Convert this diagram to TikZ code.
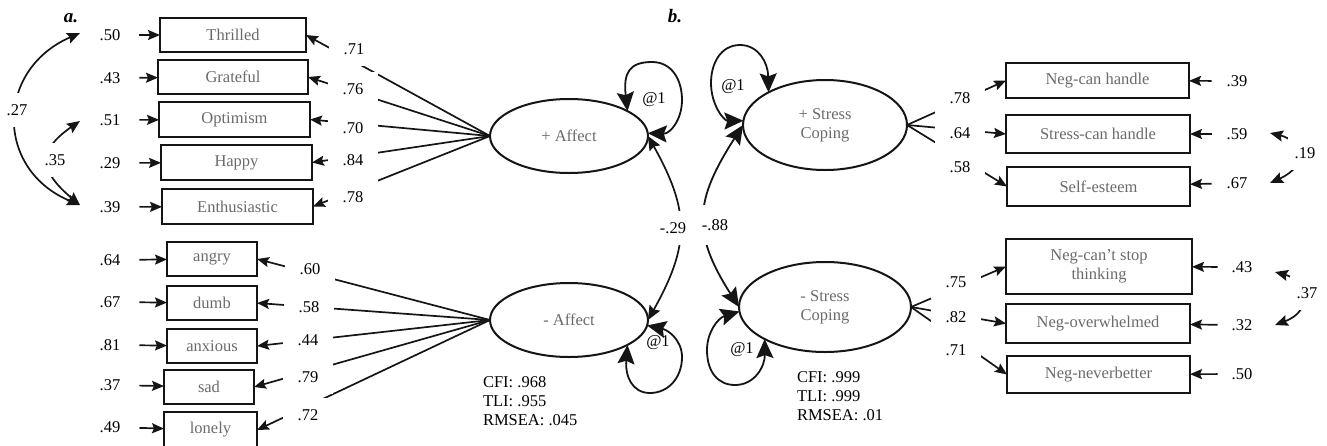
\documentclass[tikz,border=0pt]{standalone}
\usepackage{fontspec}
\setmainfont{Liberation Serif}
\usetikzlibrary{arrows.meta,shapes.geometric}
\definecolor{ink}{HTML}{151515}
\definecolor{txtgray}{HTML}{6A6A6A}
\begin{document}
\begin{tikzpicture}[x=1pt,y=-1pt,
  font=\fontsize{16.5}{19}\selectfont,
  every node/.style={inner sep=0pt, outer sep=0pt},
  obs/.style={draw=ink, line width=2pt, text=txtgray, align=center},
  lat/.style={ellipse, draw=ink, line width=2pt, text=txtgray, align=center},
  lab/.style={fill=white, minimum width=50pt, minimum height=34pt, text=black},
  load/.style={draw=ink, line width=1.7pt, -{Stealth[length=12pt,width=10pt,inset=2pt]}},
  res/.style={draw=ink, line width=1.7pt, -{Stealth[length=12pt,width=10pt,inset=2pt]}},
  cov/.style={draw=ink, line width=1.7pt, {Stealth[length=13pt,width=11pt,inset=2pt]}-{Stealth[length=13pt,width=11pt,inset=2pt]}},
  midcov/.style={draw=ink, line width=1.7pt, {Stealth[length=14pt,width=12pt,inset=2pt]}-{Stealth[length=14pt,width=12pt,inset=2pt]}},
  bigcov/.style={draw=ink, line width=1.8pt, {Stealth[length=19pt,width=17pt,inset=3pt]}-{Stealth[length=19pt,width=17pt,inset=3pt]}},
  panel/.style={font=\fontsize{19}{22}\selectfont\bfseries\itshape}
]
\useasboundingbox (0,0) rectangle (1327,445);

% panel labels
\node[panel] (pa-lbl) at (71,18) {a.};
\node[panel] (pb-lbl) at (675,16) {b.};

% latent variables
\node[lat, minimum width=158pt, minimum height=74pt] (pa) at (569,136) {+ Affect};
\node[lat, minimum width=158pt, minimum height=74pt] (na) at (569,320) {- Affect};
\node[lat, minimum width=164pt, minimum height=90pt] (ps) at (825,125) {+ Stress\\Coping};
\node[lat, minimum width=172pt, minimum height=90pt] (ns) at (825,307) {- Stress\\Coping};

% observed: positive affect
\node[obs, minimum width=146pt, minimum height=34pt] (thr) at (233,35) {Thrilled};
\node[obs, minimum width=150pt, minimum height=34pt] (gra) at (233,77) {Grateful};
\node[obs, minimum width=151pt, minimum height=35pt] (opt) at (234.5,119.5) {Optimism};
\node[obs, minimum width=151pt, minimum height=35pt] (hap) at (236.5,162.5) {Happy};
\node[obs, minimum width=151pt, minimum height=35pt] (ent) at (237.5,206.5) {Enthusiastic};
% observed: negative affect
\node[obs, minimum width=90pt, minimum height=34pt] (ang) at (212,259) {angry};
\node[obs, minimum width=90pt, minimum height=34pt] (dum) at (212,303) {dumb};
\node[obs, minimum width=90pt, minimum height=34pt] (anx) at (212,346) {anxious};
\node[obs, minimum width=90pt, minimum height=34pt] (sad) at (209,387) {sad};
\node[obs, minimum width=93pt, minimum height=36pt] (lon) at (210.5,430) {lonely};
% observed: stress coping
\node[obs, minimum width=183pt, minimum height=35pt] (nch) at (1097.5,80.5) {Neg-can handle};
\node[obs, minimum width=184pt, minimum height=38pt] (sch) at (1098,134) {Stress-can handle};
\node[obs, minimum width=183pt, minimum height=39pt] (sel) at (1098.5,186.5) {Self-esteem};
\node[obs, minimum width=186pt, minimum height=55pt] (nst) at (1099,266.5) {Neg-can’t stop\\thinking};
\node[obs, minimum width=184pt, minimum height=39pt] (now) at (1098,323.5) {Neg-overwhelmed};
\node[obs, minimum width=183pt, minimum height=37pt] (nnb) at (1098.5,374.5) {Neg-neverbetter};

% residual labels left
\node (e1) at (110,35) {.50};
\node (e2) at (110,78) {.43};
\node (e3) at (110,120) {.51};
\node (e4) at (110,163) {.29};
\node (e5) at (110,207) {.39};
\node (e6) at (110,260) {.64};
\node (e7) at (110,302) {.67};
\node (e8) at (110,345) {.81};
\node (e9) at (110,385) {.37};
\node (e10) at (110,427) {.49};
\foreach \e/\b in {e1/thr,e2/gra,e3/opt,e4/hap,e5/ent,e6/ang,e7/dum,e8/anx,e9/sad,e10/lon}
  \draw[res, shorten <=19pt] (\e) -- (\b);

% residual labels right
\node (r1) at (1237,81) {.39};
\node (r2) at (1237,134) {.59};
\node (r3) at (1237,183) {.67};
\node (r4) at (1242,267) {.43};
\node (r5) at (1242,325) {.32};
\node (r6) at (1242,374) {.50};
\foreach \e/\b in {r1/nch,r2/sch,r3/sel}
  \draw[res, shorten <=15pt] (\e) -- (\b);
\foreach \e/\b in {r4/nst,r5/now,r6/nnb}
  \draw[res, shorten <=14pt] (\e) -- (\b);

% loadings
\foreach \b in {thr,gra,opt,hap,ent} \draw[load] (pa.west) -- (\b.east);
\foreach \b in {ang,dum,anx,sad,lon} \draw[load] (na.west) -- (\b.east);
\foreach \b in {nch,sch,sel} \draw[load] (ps.east) -- (\b.west);
\foreach \b in {nst,now,nnb} \draw[load] (ns.east) -- (\b.west);

% residual covariances left
\coordinate (c27a) at (80,33);
\coordinate (c27b) at (80,205);
\coordinate (c35a) at (80,121);
\draw[cov] (c27a) .. controls (-5,70) and (-5,170) .. (c27b);
\draw[cov] (c35a) .. controls (38,150) and (38,170) .. (c27b);

% residual covariances right
\coordinate (c19a) at (1270,133);
\coordinate (c19b) at (1270,183);
\draw[cov] (c19a) .. controls (1300,140) and (1310,165) .. (c19b);
\coordinate (c37a) at (1275,272);
\coordinate (c37b) at (1275,325);
\draw[cov] (c37a) .. controls (1305,280) and (1315,310) .. (c37b);

% variance loops
\draw[bigcov] (pa.23) .. controls (623,72) and (630,62) .. (652,62)
  .. controls (672,62) and (682,80) .. (682,100)
  .. controls (682,120) and (670,134) .. (pa.2);
\draw[bigcov] (na.-4) .. controls (668,330) and (682,340) .. (682,357)
  .. controls (682,378) and (668,393) .. (650,393)
  .. controls (632,393) and (625,376) .. (na.-23);
\draw[bigcov] (ps.150) .. controls (768,62) and (758,45) .. (740,45)
  .. controls (721,45) and (711,63) .. (711,83)
  .. controls (711,105) and (724,121) .. (ps.177);
\draw[bigcov] (ns.183) .. controls (718,318) and (707,332) .. (707,350)
  .. controls (707,372) and (718,385) .. (735,385)
  .. controls (755,385) and (765,366) .. (ns.208);

% latent covariances
\draw[midcov] (pa.east) .. controls +(42,75) and +(42,-75) .. (na.east);
\draw[bigcov] (ps.west) .. controls +(-48,75) and +(-48,-75) .. (ns.west);

% loop labels
\node (v1) at (654,100) {@1};
\node (v2) at (658,343) {@1};
\node (v3) at (733,87) {@1};
\node (v4) at (742,350) {@1};

% loading labels (white masks)
\node[lab] (l1) at (354,49) {.71};
\node[lab] (l2) at (353,89) {.76};
\node[lab] (l3) at (353,128) {.70};
\node[lab] (l4) at (353,160) {.84};
\node[lab] (l5) at (353,197) {.78};
\node[lab] (l6) at (310,269) {.60};
\node[lab] (l7) at (309,307) {.58};
\node[lab] (l8) at (308,340) {.44};
\node[lab] (l9) at (308,377) {.79};
\node[lab] (l10) at (308,415) {.72};
\node[lab] (l11) at (960,98) {.78};
\node[lab] (l12) at (960,133) {.64};
\node[lab] (l13) at (960,167) {.58};
\node[lab] (l14) at (956,282) {.75};
\node[lab] (l15) at (956,317) {.82};
\node[lab] (l16) at (956,350) {.71};

% covariance labels
\node[lab, minimum width=50pt] (k27) at (17,110) {.27};
\node[lab, minimum width=30pt] (k35) at (55,160) {.35};
\node[lab, minimum width=34pt] (k19) at (1305,153) {.19};
\node[lab, minimum width=34pt] (k37) at (1307,293) {.37};
\node[lab, minimum width=40pt] (k29) at (673,228) {-.29};
\node[lab, minimum width=40pt, minimum height=40pt] (k88) at (715,225) {-.88};

% fit indices
\node[anchor=north west, align=left] (fit1) at (483,377) {CFI: .968\\TLI: .955\\RMSEA: .045};
\node[anchor=north west, align=left] (fit2) at (797,372) {CFI: .999\\TLI: .999\\RMSEA: .01};
\end{tikzpicture}
\end{document}
